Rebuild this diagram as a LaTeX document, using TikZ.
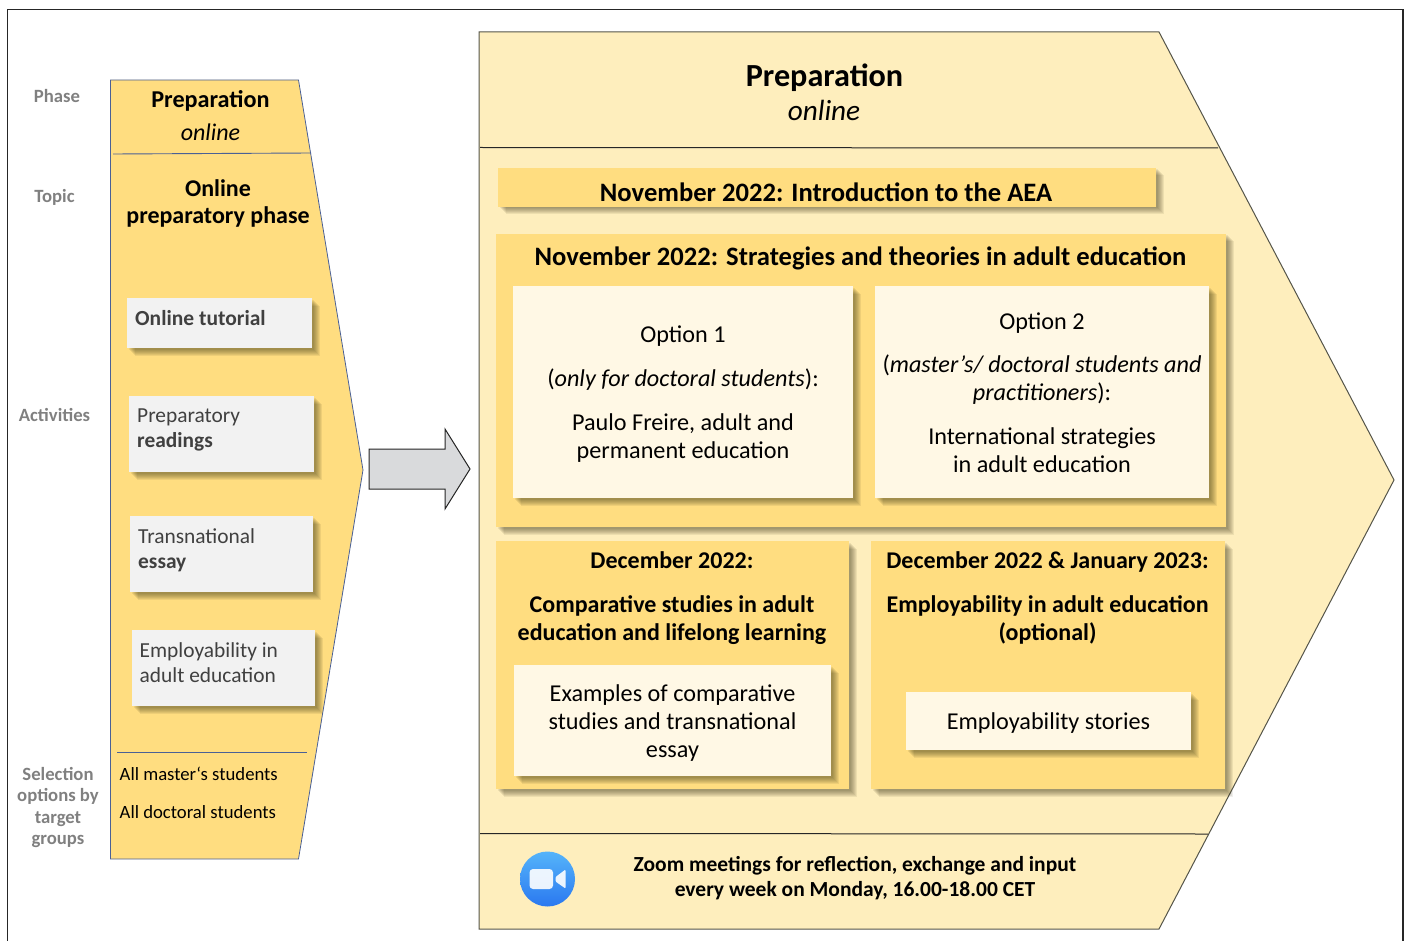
\documentclass[tikz,border=0pt]{standalone}
\usepackage{fontspec}
\setmainfont{Carlito}
\usetikzlibrary{shadows}
\definecolor{chevL}{HTML}{FFDD80}
\definecolor{chevR}{HTML}{FEEEBD}
\definecolor{cream}{HTML}{FFF8E5}
\definecolor{panel}{HTML}{F2F2F2}
\definecolor{labelgray}{HTML}{808080}
\definecolor{boxtext}{HTML}{404040}
\definecolor{edgeblue}{HTML}{4A6096}
\definecolor{edgegray}{HTML}{55554A}
\definecolor{arrowfill}{HTML}{D9DADC}
\definecolor{shadowc}{HTML}{403818}
\definecolor{zoomtop}{HTML}{55B4FA}
\definecolor{zoombot}{HTML}{2A78F0}
\tikzset{
  softlayer/.style={general shadow={fill=shadowc,fill opacity=.085,shadow xshift=#1pt,shadow yshift=-#1pt}},
  softshadow/.style={softlayer=7.5,softlayer=6.5,softlayer=5.5,softlayer=4.5,softlayer=3.5,softlayer=2.5,softlayer=1.5},
  gold/.style={rectangle,fill=chevL,softshadow,inner sep=0pt},
  creambox/.style={rectangle,fill=cream,softshadow,inner sep=0pt,align=center,
     font=\fontsize{24.2}{28}\selectfont},
  greybox/.style={rectangle,fill=panel,softshadow,inner sep=0pt},
  sidelabel/.style={text=labelgray,font=\bfseries\fontsize{18.7}{21.5}\selectfont,align=center,inner sep=0pt},
  boxlabel/.style={text=boxtext,font=\fontsize{21.4}{25}\selectfont,align=left,anchor=north west,inner sep=0pt},
  headtext/.style={font=\bfseries\fontsize{26.6}{28}\selectfont,align=center,inner sep=0pt},
  head2/.style={font=\bfseries\fontsize{24}{27.5}\selectfont,align=center,inner sep=0pt},
  smalltext/.style={font=\fontsize{18.7}{22}\selectfont,anchor=west,inner sep=0pt},
  ruleblue/.style={draw=edgeblue,line width=.9pt},
  ruledark/.style={draw=black!85,line width=1pt},
}
\begin{document}
\begin{tikzpicture}[x=1pt,y=-1pt]
\useasboundingbox (0,0) rectangle (1407,941);
% outer frame
\coordinate (fa) at (7.5,945); \coordinate (fb) at (7.5,9.5);
\coordinate (fc) at (1403,9.5); \coordinate (fd) at (1403,945);
\draw[black!85,line width=1.1pt] (fa) -- (fb) -- (fc) -- (fd);
% left chevron
\draw[fill=chevL,draw=edgeblue,line width=.8pt] (110.5,80) -- (298.5,80) -- (363,470) -- (298.5,859) -- (110.5,859) -- cycle;
\coordinate (l1a) at (113,154); \coordinate (l1b) at (311,153);
\coordinate (l2a) at (117,752.5); \coordinate (l2b) at (307,752.5);
\draw[ruleblue] (l1a) -- (l1b);
\draw[ruleblue] (l2a) -- (l2b);
% side labels
\node[sidelabel] (phase) at (57,96.5) {Phase};
\node[sidelabel] (topic) at (54.5,197) {Topic};
\node[sidelabel] (activ) at (54.5,415) {Activities};
\node[sidelabel] (select) at (58,807.5) {Selection\\options by\\target\\groups};
% left chevron text
\node[font=\bfseries\fontsize{24.2}{28}\selectfont,inner sep=0pt] (lprep) at (210.5,100.5) {Preparation};
\node[font=\itshape\fontsize{24}{28}\selectfont,inner sep=0pt] (lonl) at (210.5,132.5) {online};
\node[font=\bfseries\fontsize{24}{27}\selectfont,align=center,inner sep=0pt] (ltopic) at (218,203.5) {Online\\preparatory phase};
% left boxes
\node[greybox,minimum width=185pt,minimum height=50pt] (b1) at (219.5,323) {};
\node[greybox,minimum width=185pt,minimum height=76pt] (b2) at (221.5,434) {};
\node[greybox,minimum width=183pt,minimum height=76pt] (b3) at (221.5,554) {};
\node[greybox,minimum width=183pt,minimum height=76pt] (b4) at (223.5,668) {};
\node[boxlabel,font=\bfseries\fontsize{21.5}{25}\selectfont] (t1) at (135,310.5) {Online tutorial};
\node[boxlabel] (t2) at (137,409) {Preparatory\\\textbf{readings}};
\node[boxlabel] (t3) at (138,528.5) {Transnational\\\textbf{essay}};
\node[boxlabel] (t4) at (139.5,642.5) {Employability in\\adult education};
\node[smalltext] (s1) at (119.5,774) {All master‘s students};
\node[smalltext] (s2) at (119.5,812.5) {All doctoral students};
% block arrow
\draw[fill=arrowfill,draw=black!85,line width=1pt] (369,449) -- (445,449) -- (445,429) -- (470,469) -- (445,509) -- (445,489) -- (369,489) -- cycle;
% right chevron
\draw[fill=chevR,draw=edgegray,line width=1pt] (479,32) -- (1159,32) -- (1394,480) -- (1159,929) -- (479,929) -- cycle;
\coordinate (r1a) at (480,147.5); \coordinate (r1b) at (1218,148);
\coordinate (r2a) at (480,833.5); \coordinate (r2b) at (1208,834);
\draw[ruledark] (r1a) -- (r1b);
\draw[ruledark] (r2a) -- (r2b);
\node[font=\bfseries\fontsize{32.2}{36}\selectfont,inner sep=0pt] (rprep) at (824.5,78) {Preparation};
\node[font=\itshape\fontsize{29.2}{34}\selectfont,inner sep=0pt] (ronl) at (824,110) {online};
% gold boxes
\node[gold,minimum width=658pt,minimum height=39pt] (intro) at (827,187.5) {};
\node[gold,minimum width=730pt,minimum height=293pt] (strat) at (861,380.5) {};
\node[gold,minimum width=353pt,minimum height=248pt] (decl) at (672.5,665) {};
\node[gold,minimum width=354pt,minimum height=248pt] (decr) at (1048,665) {};
\node[headtext] (tintro) at (826,192) {November 2022: Introduction to the AEA};
\node[headtext] (tstrat) at (860.5,258) {November 2022: Strategies and theories in adult education};
% cream boxes
\node[creambox,minimum width=340pt,minimum height=212pt] (opt1) at (683,392) {\rule{0pt}{20pt}Option 1\\[16pt](\textit{only for doctoral students}):\\[16pt]Paulo Freire, adult and\\permanent education};
\node[creambox,minimum width=334pt,minimum height=212pt] (opt2) at (1042,392) {\rule{0pt}{18pt}Option 2\\[15.5pt](\textit{master’s/ doctoral students and}\\\textit{practitioners}):\\[16pt]International strategies\\in adult education};
\node[head2] (tdecl) at (672,598) {December 2022:\\[16.5pt]Comparative studies in adult\\education and lifelong learning};
\node[head2] (tdecr) at (1047.5,598) {December 2022 \& January 2023:\\[16.5pt]Employability in adult education\\(optional)};
\node[creambox,minimum width=317pt,minimum height=111pt] (ex) at (672.5,720.5) {\rule{0pt}{21.5pt}Examples of comparative\\studies and transnational\\essay};
\node[creambox,minimum width=285pt,minimum height=58pt] (story) at (1048.5,721) {\rule{0pt}{21.5pt}Employability stories};
% zoom row
\node[font=\bfseries\fontsize{21.5}{25}\selectfont,align=center,inner sep=0pt] (zoomt) at (855,878) {Zoom meetings for reflection, exchange and input\\every week on Monday, 16.00-18.00 CET};
% zoom icon
\shade[bottom color=zoombot,top color=zoomtop] (547.5,879) circle (27.5);
\fill[white,opacity=.9,rounded corners=3.5pt] (529.5,869) rectangle (553,889);
\fill[white,opacity=.9,rounded corners=1pt] (555.5,877) -- (565.5,869.5) -- (565.5,888.5) -- (555.5,881.5) -- cycle;
\end{tikzpicture}
\end{document}
